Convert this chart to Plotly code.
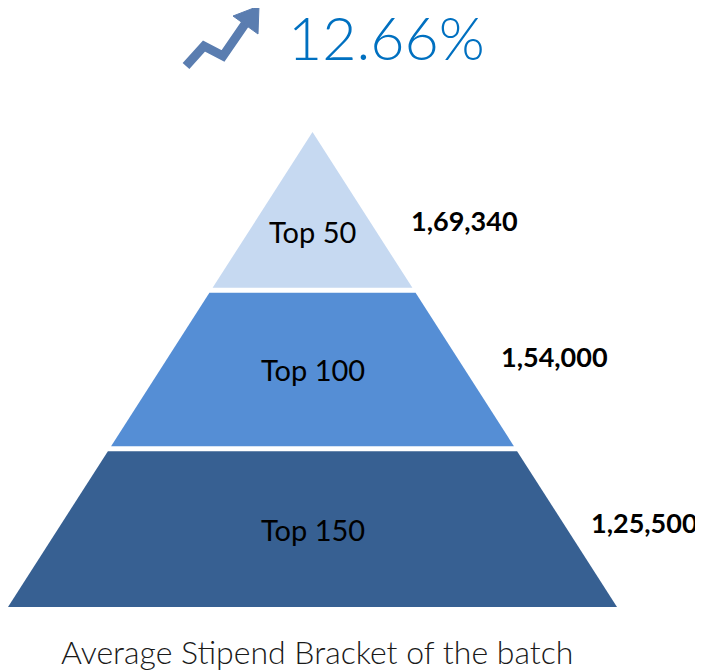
import plotly.graph_objects as go

# ---- data ----
tiers = ["Top 50", "Top 100", "Top 150"]
stipends = [169340, 154000, 125500]
growth_pct = 12.66
caption = "Average Stipend Bracket of the batch"

# ---- style / layout ----
W, H = 703, 671
OFF = 8  # page body margin
colors = ["#C6D9F1", "#558ED5", "#376092"]
apex = (312.5, 132.0)
base_y = 607.0
half_base = 304.5
gap = 5.0
label_pos = [(409, 220), (499, 356), (589, 522)]
text_frac = [0.64, 0.5, 0.5]


def indian_format(n):
    s = str(int(n))
    if len(s) <= 3:
        return s
    last3 = s[-3:]
    rest = s[:-3]
    groups = []
    while len(rest) > 2:
        groups.insert(0, rest[-2:])
        rest = rest[:-2]
    if rest:
        groups.insert(0, rest)
    return ",".join(groups) + "," + last3


fig = go.Figure()
n = len(tiers)
total_h = base_y - apex[1]
slope = half_base / total_h
for i, (name, col) in enumerate(zip(tiers, colors)):
    yt = apex[1] + i * total_h / n + (gap / 2 if i > 0 else 0)
    yb = apex[1] + (i + 1) * total_h / n - (gap / 2 if i < n - 1 else 0)
    ht = (yt - apex[1]) * slope
    hb = (yb - apex[1]) * slope
    xs = [apex[0] - ht, apex[0] + ht, apex[0] + hb, apex[0] - hb, apex[0] - ht]
    ys = [yt, yt, yb, yb, yt]
    fig.add_trace(go.Scatter(x=xs, y=ys, fill="toself", fillcolor=col,
                             line=dict(width=0, color=col), mode="lines",
                             hoverinfo="skip", showlegend=False))
    fig.add_annotation(x=apex[0], y=yt + text_frac[i] * (yb - yt), text=name,
                       showarrow=False, font=dict(family="Lato", size=29, color="#000000"),
                       xanchor="center", yanchor="middle")
    lx, ly = label_pos[i]
    fig.add_annotation(x=lx, y=ly, text="<b>" + indian_format(stipends[i]) + "</b>",
                       showarrow=False, font=dict(family="Lato", size=27, color="#000000"),
                       xanchor="left", yanchor="middle")

# headline percentage
fig.add_annotation(x=287, y=37, text=f"{growth_pct:.2f}%", showarrow=False,
                   font=dict(family="Lato", size=59, color="#0070C0", weight=300),
                   xanchor="left", yanchor="middle", borderpad=0)

# trend arrow icon
arrow_col = "#5A7DB0"
fig.add_shape(type="path", path="M 186 66 L 204 46 L 223 56 L 245 24",
              line=dict(color=arrow_col, width=9), layer="above")
fig.add_shape(type="path", path="M 259 6 L 233 16 L 258 34 Z",
              fillcolor=arrow_col, line=dict(color=arrow_col, width=1), layer="above")

# caption
fig.add_annotation(x=317, y=651, text=caption, showarrow=False,
                   font=dict(family="Lato", size=32, color="#1a1a1a", weight=300),
                   xanchor="center", yanchor="middle")

fig.update_layout(width=W - OFF, height=H - OFF, margin=dict(l=0, r=0, t=0, b=0),
                  paper_bgcolor="white", plot_bgcolor="white",
                  xaxis=dict(range=[OFF, W], visible=False, fixedrange=True),
                  yaxis=dict(range=[H, OFF], visible=False, fixedrange=True))

fig.write_html("out.html")
